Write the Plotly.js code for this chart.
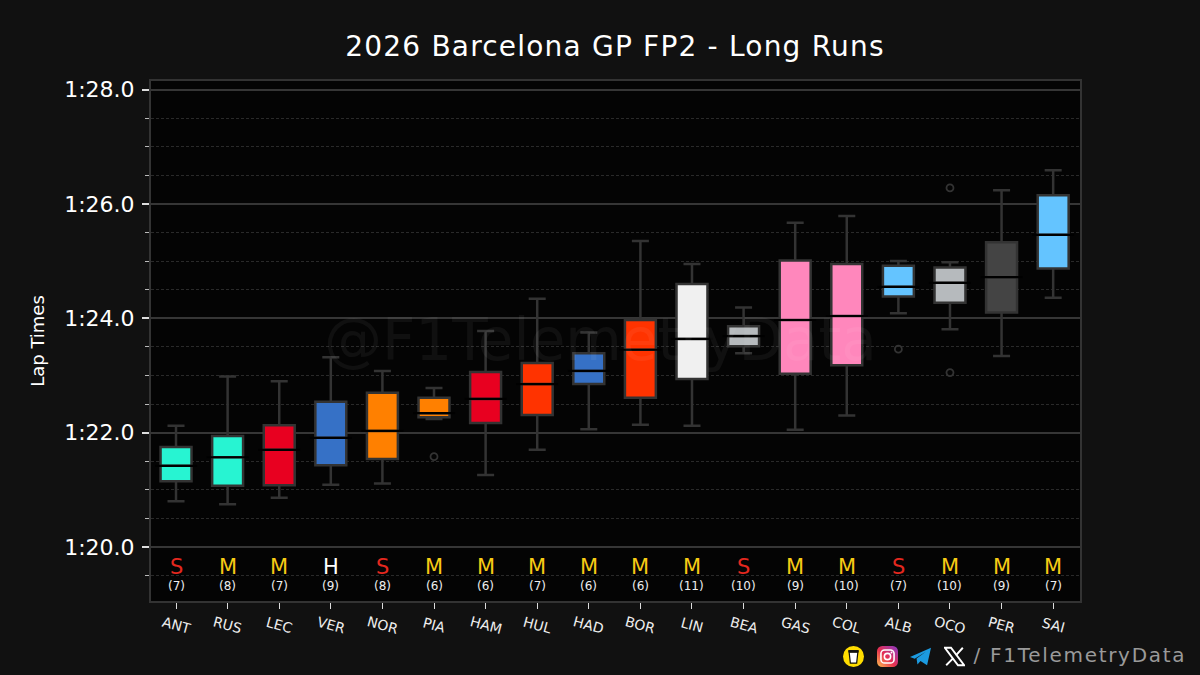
<!DOCTYPE html>
<html>
<head>
<meta charset="utf-8">
<script src="https://cdn.plot.ly/plotly-3.0.1.min.js"></script>
<style>
  html, body { margin: 0; padding: 0; background: #111111; }
  #chart { width: 1200px; height: 675px; }
  /* the original font runs wider than anything installed */
  .gtitle { letter-spacing: 1.2px; }
  g.annotation:last-child text { letter-spacing: 1.7px; }
</style>
</head>
<body>
<div id="chart"></div>
<script>
// lap times in seconds
const drivers = ["ANT","RUS","LEC","VER","NOR","PIA","HAM","HUL","HAD","BOR","LIN","BEA","GAS","COL","ALB","OCO","PER","SAI"];
const compounds = ["S","M","M","H","S","M","M","M","M","M","M","S","M","M","S","M","M","M"];
const lapCounts = [7,8,7,9,8,6,6,7,6,6,11,10,9,10,7,10,9,7];
const upper  = [82.12,82.98,82.90,83.32,83.08,82.78,83.78,84.34,83.75,85.35,84.95,84.19,85.67,85.79,85.00,84.98,86.24,86.59];
const q3     = [81.75,81.94,82.13,82.54,82.70,82.61,83.06,83.22,83.39,83.97,84.60,83.86,85.01,84.95,84.92,84.89,85.33,86.15];
const median = [81.42,81.57,81.70,81.91,82.03,82.34,82.59,82.85,83.08,83.45,83.64,83.69,83.97,84.04,84.55,84.62,84.72,85.46];
const q1     = [81.15,81.07,81.08,81.43,81.54,82.27,82.17,82.31,82.85,82.61,82.94,83.51,83.03,83.18,84.38,84.27,84.10,84.87];
const lower  = [80.80,80.75,80.86,81.09,81.11,82.24,81.26,81.70,82.06,82.14,82.12,83.39,82.05,82.30,84.09,83.81,83.34,84.36];
const outlierDrivers = ["PIA","ALB","OCO","OCO"];
const outlierTimes = [81.58,83.46,86.28,83.05];
const tickVals = [80,82,84,86,88];
const tickLabels = ["1:20.0","1:22.0","1:24.0","1:26.0","1:28.0"];

const teamColors = ["#27F4D2","#27F4D2","#E80020","#3671C6","#FF8000","#FF8000","#E80020","#FF3300","#3671C6","#FF3300","#F0F0F0","#B6BABD","#FF87BC","#FF87BC","#64C4FF","#B6BABD","#444444","#64C4FF"];
const compoundColors = { S: "#E4281F", M: "#F7CB14", H: "#FFFFFF" };

const FONT = "DejaVu Sans";
const LINE = "#333333";

// one box trace per driver so each gets its own fill
const boxes = drivers.map((d, i) => ({
  type: "box",
  x: [d],
  q1: [q1[i]],
  median: [median[i]],
  q3: [q3[i]],
  lowerfence: [lower[i]],
  upperfence: [upper[i]],
  boxpoints: false,
  width: 0.6,
  whiskerwidth: 0.55,
  fillcolor: teamColors[i],
  line: { color: LINE, width: 2.5 },
  showlegend: false,
  hoverinfo: "skip"
}));

// plotly has no separate median colour, so black dashes go on top
const medians = {
  type: "scatter",
  mode: "markers",
  x: drivers,
  y: median,
  marker: { symbol: "line-ew", size: 30, color: "#000000", line: { color: "#000000", width: 2.2 } },
  showlegend: false,
  hoverinfo: "skip"
};

const outliers = {
  type: "scatter",
  mode: "markers",
  x: outlierDrivers,
  y: outlierTimes,
  marker: { symbol: "circle-open", size: 7, color: LINE, line: { color: LINE, width: 1.8 } },
  showlegend: false,
  hoverinfo: "skip"
};

const tyreNotes = drivers.map((d, i) => ({
  x: d, y: 79.65, xref: "x", yref: "y",
  text: compounds[i],
  showarrow: false,
  font: { family: FONT, size: 21, color: compoundColors[compounds[i]] }
}));

const countNotes = drivers.map((d, i) => ({
  x: d, y: 79.32, xref: "x", yref: "y",
  text: "(" + lapCounts[i] + ")",
  showarrow: false,
  font: { family: FONT, size: 12, color: "#EEEEEE" }
}));

// plotly starts angled tick labels at the tick, these sit centred under it
const driverNotes = drivers.map((d) => ({
  x: d, y: 0, xref: "x", yref: "paper", yanchor: "middle",
  yshift: -24,
  text: d,
  textangle: 15,
  showarrow: false,
  font: { family: FONT, size: 14, color: "#EEEEEE" }
}));

const watermark = {
  x: (600 - 151) / 929, y: 84.0, xref: "paper", yref: "y", yanchor: "middle",
  yshift: -22,
  text: "@F1TelemetryData",
  showarrow: false,
  font: { family: FONT, size: 58, color: "rgba(255,255,255,0.05)" }
};

const footer = {
  x: (1174 - 151) / 929, y: -(655 - 601) / 520, xref: "paper", yref: "paper", xanchor: "right", yanchor: "middle",
  text: "/ F1TelemetryData",
  showarrow: false,
  font: { family: FONT, size: 20, color: "#9A9A9A" }
};

// social icons in the bottom right corner
function svgUri(body) {
  return "data:image/svg+xml;charset=utf-8," + encodeURIComponent(
    '<svg xmlns="http://www.w3.org/2000/svg" viewBox="0 0 24 24" width="96" height="96">' + body + "</svg>");
}
const cup = svgUri('<circle cx="12" cy="12" r="12" fill="#FFDD00"/><path d="M7 7h10l-1.4 12.5h-7.2z" fill="#fff" stroke="#111" stroke-width="1.4"/><rect x="6" y="4.6" width="12" height="2.6" fill="#111"/>');
const insta = svgUri('<defs><linearGradient id="g" x1="0" y1="1" x2="1" y2="0"><stop offset="0" stop-color="#FDC04F"/><stop offset=".45" stop-color="#E8304F"/><stop offset="1" stop-color="#8A3AC8"/></linearGradient></defs><rect width="24" height="24" rx="6" fill="url(#g)"/><rect x="4.5" y="4.5" width="15" height="15" rx="4.2" fill="none" stroke="#fff" stroke-width="1.8"/><circle cx="12" cy="12" r="3.6" fill="none" stroke="#fff" stroke-width="1.8"/><circle cx="16.6" cy="7.4" r="1.1" fill="#fff"/>');
const plane = svgUri('<path d="M0 12.5 24 2 19.5 22 12 17l-3.5 4-1-6.6L18 6.5 5.4 14.6z" fill="#1C9BE0"/>');
const xLogo = svgUri('<path d="M1 2h7l15 20h-7z" fill="none" stroke="#fff" stroke-width="2.2"/><path d="M21.5 2 13.6 10.8M10.6 13.8 2.5 22" stroke="#fff" stroke-width="2.2"/>');
const icons = [[cup, 843], [insta, 877], [plane, 910], [xLogo, 944]].map(([src, left]) => ({
  source: src,
  xref: "paper", yref: "paper",
  x: (left - 151) / 929,
  y: -(646 - 601) / 520,
  sizex: 21 / 929,
  sizey: 21 / 520,
  xanchor: "left", yanchor: "top",
  layer: "above"
}));

const layout = {
  width: 1200,
  height: 675,
  paper_bgcolor: "#111111",
  plot_bgcolor: "#040404",
  margin: { l: 151, r: 120, t: 81, b: 74 },
  title: {
    text: "2026 Barcelona GP FP2 - Long Runs",
    x: 615 / 1200, xanchor: "center",
    y: 1 - 46 / 675, yanchor: "middle",
    font: { family: FONT, size: 28, color: "#FFFFFF" }
  },
  boxmode: "overlay",
  showlegend: false,
  xaxis: {
    type: "category",
    categoryorder: "array",
    categoryarray: drivers,
    range: [-0.485, 17.52],
    showticklabels: false,
    ticks: "outside",
    ticklen: 6,
    tickwidth: 1,
    tickcolor: "#DDDDDD",
    showgrid: false,
    zeroline: false,
    showline: true,
    linecolor: LINE,
    linewidth: 2,
    mirror: true
  },
  yaxis: {
    range: [79.056, 88.15],
    tickmode: "array",
    tickvals: tickVals,
    ticktext: tickLabels,
    ticks: "outside",
    ticklen: 7,
    tickwidth: 2,
    tickcolor: "#DDDDDD",
    ticklabelstandoff: 3,
    tickfont: { family: FONT, size: 22, color: "#FFFFFF" },
    showgrid: true,
    gridcolor: "#363636",
    gridwidth: 2,
    zeroline: false,
    showline: true,
    linecolor: LINE,
    linewidth: 2,
    mirror: true,
    minor: {
      tickmode: "linear",
      tick0: 80,
      dtick: 0.5,
      ticks: "outside",
      ticklen: 4,
      tickwidth: 1,
      tickcolor: "#BBBBBB",
      showgrid: true,
      gridcolor: "#2A2A2A",
      gridwidth: 1,
      griddash: "3px,2px"
    },
    title: {
      text: "Lap Times",
      standoff: 15,
      font: { family: FONT, size: 18, color: "#FFFFFF" }
    }
  },
  annotations: [...tyreNotes, ...countNotes, ...driverNotes, watermark, footer],
  images: icons
};

Plotly.newPlot("chart", [...boxes, medians, outliers], layout, { displayModeBar: false, staticPlot: true });
</script>
</body>
</html>
